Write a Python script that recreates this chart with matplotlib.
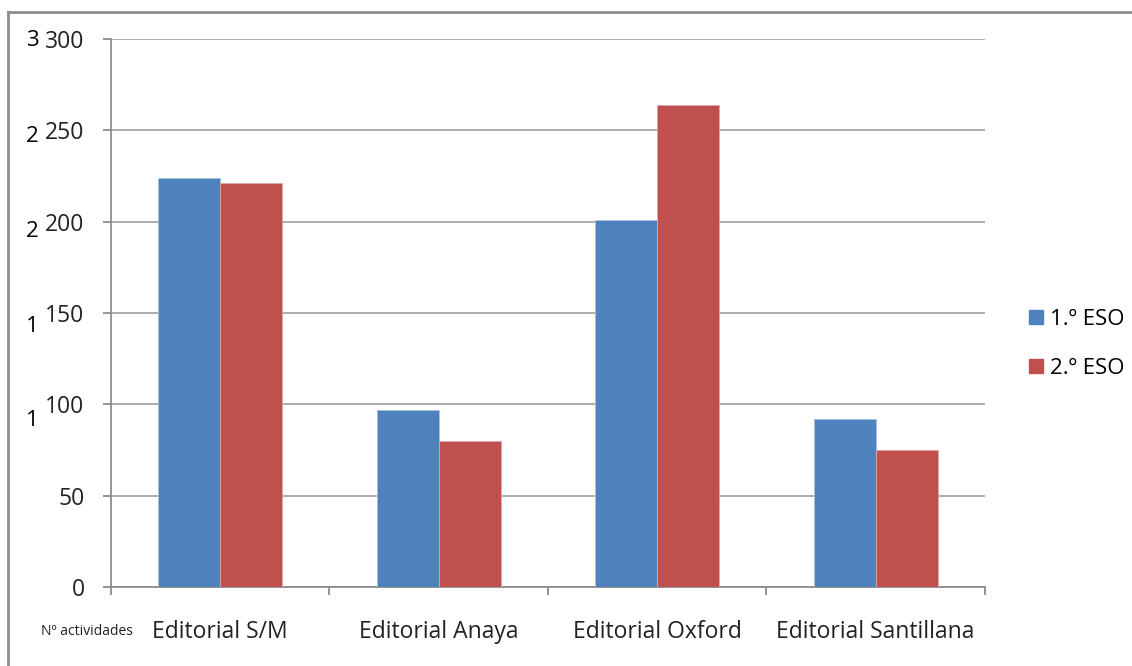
import numpy as np
import matplotlib.pyplot as plt
from matplotlib.lines import Line2D

# data
categories = ['Editorial S/M', 'Editorial Anaya', 'Editorial Oxford', 'Editorial Santillana']
eso1 = [224, 97, 201, 92]
eso2 = [221, 80, 264, 75]
series_names = ['1.º ESO', '2.º ESO']
y_ticks = [0, 50, 100, 150, 200, 250, 300]
# clipped digits of an older axis label column on the left
stray_digits = ['3', '2', '2', '1', '1']

blue = '#4F81BD'
red = '#C0504D'
grey = '#8c8c8c'

plt.rcParams['font.family'] = ['Open Sans', 'DejaVu Sans']

fig = plt.figure(figsize=(11.32, 6.66), dpi=100)
ax = fig.add_axes([0.098, 0.1186, 0.772, 0.8228])

x = np.arange(len(categories))
w = 0.284
ax.bar(x - w, eso1, w, align='edge', color=blue, edgecolor='#a9c1e0', linewidth=0.6,
       label=series_names[0], zorder=3)
ax.bar(x, eso2, w, align='edge', color=red, edgecolor='#e0a8a6', linewidth=0.6,
       label=series_names[1], zorder=3)

ax.set_xlim(-0.5, len(categories) - 0.5)
ax.set_ylim(0, 300)
ax.set_yticks(y_ticks)
ax.set_yticklabels([str(v) for v in y_ticks], fontsize=16.5, color='#222222')
ax.yaxis.grid(True, color='#a6a6a6', linewidth=1.3, zorder=0)
ax.set_axisbelow(True)

for side in ['top', 'right']:
    ax.spines[side].set_visible(False)
for side in ['left', 'bottom']:
    ax.spines[side].set_color(grey)
    ax.spines[side].set_linewidth(1.3)

ax.tick_params(axis='y', length=6, width=1.3, color=grey, pad=13)
# category boundaries get the x ticks, labels go on the centres
ax.set_xticks(np.arange(len(categories) + 1) - 0.5)
ax.set_xticklabels([])
ax.set_xticks(x, minor=True)
ax.set_xticklabels(categories, minor=True, fontsize=16.5, color='#222222')
ax.tick_params(axis='x', which='major', length=6, width=1.3, color=grey, direction='out')
ax.tick_params(axis='x', which='minor', length=0, pad=24)

fig.text(0.036, 0.052, 'Nº actividades', fontsize=10, color='#222222',
         ha='left', va='center')

stray_y = [41, 137, 232, 326, 420]
for d, yp in zip(stray_digits, stray_y):
    fig.text(0.023, 1 - yp / 666, d, fontsize=16, color='black', ha='left', va='center')

handles = [Line2D([], [], marker='s', linestyle='none', markersize=10, color=c)
           for c in (blue, red)]
fig.legend(handles, series_names, loc='center left', bbox_to_anchor=(0.889, 0.484),
           frameon=False, fontsize=16, handletextpad=0.15, labelspacing=1.25,
           handlelength=0.9)

# outer frame (only left and top visible in the reference)
fig.add_artist(Line2D([0.0075, 0.0075], [0, 0.982], color=grey, linewidth=2,
                      transform=fig.transFigure))
fig.add_artist(Line2D([0.0075, 1.0], [0.982, 0.982], color=grey, linewidth=2,
                      transform=fig.transFigure))

fig.savefig('out.png', dpi=100)
